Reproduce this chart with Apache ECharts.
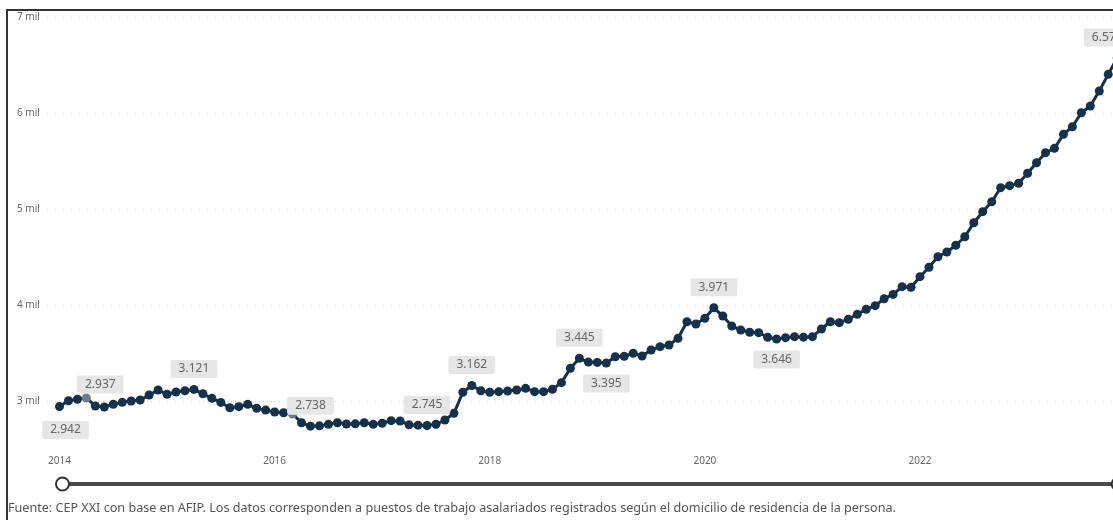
<!DOCTYPE html>
<html>
<head>
<meta charset="utf-8">
<script src="https://cdn.jsdelivr.net/npm/echarts@6/dist/echarts.min.js"></script>
<style>
  html, body { margin: 0; padding: 0; width: 1113px; height: 520px; overflow: hidden; background: #fff; }
  #frame { position: absolute; left: 6px; top: 9px; width: 1200px; height: 600px;
           border-left: 2px solid #333; border-top: 2px solid #333; }
  #chart { position: absolute; left: 0; top: 0; width: 1150px; height: 520px; }
</style>
</head>
<body>
<div id="frame"></div>
<div id="chart"></div>
<script>
// Puestos de trabajo asalariados registrados, serie mensual (ene-2014 a nov-2023)
const startYear = 2014;
const values = [
  2942, 3003, 3018, 3031, 2948, 2937, 2966, 2986, 3000, 3010, 3063, 3115,
  3070, 3094, 3107, 3121, 3075, 3028, 2985, 2930, 2941, 2965, 2924, 2905,
  2885, 2878, 2865, 2774, 2738, 2741, 2757, 2774, 2760, 2762, 2774, 2757,
  2768, 2795, 2792, 2752, 2748, 2745, 2757, 2802, 2872, 3091, 3162, 3107,
  3091, 3097, 3104, 3115, 3132, 3097, 3097, 3122, 3191, 3341, 3445, 3405,
  3402, 3395, 3461, 3465, 3497, 3469, 3531, 3566, 3583, 3653, 3826, 3802,
  3861, 3971, 3885, 3781, 3740, 3716, 3712, 3664, 3646, 3660, 3670, 3665,
  3670, 3750, 3826, 3816, 3851, 3903, 3955, 3993, 4065, 4110, 4191, 4185,
  4295, 4393, 4503, 4552, 4622, 4711, 4857, 4972, 5076, 5222, 5243, 5268,
  5372, 5482, 5586, 5632, 5778, 5857, 6003, 6073, 6229, 6403, 6574
];
// months shown with a value label, and which of them carry it underneath
const labelAbove = [5, 15, 28, 41, 46, 58, 73, 118];
const labelBelow = [0, 61, 80];
// markers drawn in a lighter tone
const mutedPoints = [3, 26];
// x-axis labels (years) and y-axis labels (thousands)
const yearTicks = [2014, 2016, 2018, 2020, 2022];
const yTicks = [3000, 4000, 5000, 6000, 7000];

const fmtThousands = v => {
  const s = String(Math.round(v));
  return s.length > 3 ? s.slice(0, s.length - 3) + '.' + s.slice(-3) : s;
};

const LINE = '#13314a';
const labelBase = {
  show: true,
  formatter: p => fmtThousands(p.value[1]),
  fontFamily: 'Noto Sans', fontSize: 12, lineHeight: 12, color: '#666',
  backgroundColor: '#e6e6e6', borderRadius: 2, padding: [3, 8], distance: 7
};
// nudges that keep some labels clear of the line or inside the plot
const labelOffsets = { 0: [6, 3], 5: [-4, -2], 118: [-10, 0] };

// x is the month number counted from January of the start year
const seriesData = values.map((v, i) => {
  const item = { value: [i, v] };
  const above = labelAbove.indexOf(i) >= 0, below = labelBelow.indexOf(i) >= 0;
  if (above || below) {
    item.label = Object.assign({}, labelBase, { position: above ? 'top' : 'bottom' });
    if (labelOffsets[i]) item.label.offset = labelOffsets[i];
  }
  if (mutedPoints.indexOf(i) >= 0) item.itemStyle = { color: '#6b7d8c' };
  return item;
});

const lastIdx = values.length - 1;
const edgePad = 1.84; // months of empty space at each end of the plot

const chart = echarts.init(document.getElementById('chart'), null, { renderer: 'canvas' });
chart.setOption({
  animation: false,
  backgroundColor: 'transparent',
  grid: { left: 43, top: 17, width: 1090.7, height: 432, containLabel: false },
  xAxis: {
    type: 'value',
    min: -edgePad, max: lastIdx + edgePad,
    axisLine: { show: false }, axisTick: { show: false }, splitLine: { show: false },
    axisLabel: {
      customValues: yearTicks.map(y => (y - startYear) * 12),
      formatter: v => String(startYear + Math.round(v / 12)),
      fontFamily: 'Noto Sans', fontSize: 10, color: '#666', margin: 7
    }
  },
  yAxis: {
    type: 'value', min: 2500, max: 7000, interval: 500,
    axisLine: { show: false }, axisTick: { show: false },
    axisLabel: {
      formatter: v => (yTicks.indexOf(v) >= 0 ? (v / 1000) + ' mil' : ''),
      fontFamily: 'Noto Sans', fontSize: 10, color: '#666', align: 'left', margin: 26
    },
    splitLine: { show: true, lineStyle: { color: ['rgba(0,0,0,0)', '#d4d4d4'], type: [1, 3], width: 1 } }
  },
  dataZoom: [{
    type: 'slider', xAxisIndex: 0, filterMode: 'none', start: 0, end: 100,
    left: 59.5, width: 1057.7, top: 482, height: 4,
    backgroundColor: '#4a4a4a', fillerColor: '#4a4a4a', borderColor: 'transparent',
    showDetail: false, showDataShadow: false, brushSelect: false, zoomLock: true,
    moveHandleSize: 0,
    handleIcon: 'circle', handleSize: 13,
    handleStyle: { color: '#fff', borderColor: '#333', borderWidth: 2 },
    dataBackground: { lineStyle: { opacity: 0 }, areaStyle: { opacity: 0 } },
    selectedDataBackground: { lineStyle: { opacity: 0 }, areaStyle: { opacity: 0 } }
  }],
  series: [{
    type: 'line',
    data: seriesData,
    symbol: 'circle', symbolSize: 9, showSymbol: true,
    lineStyle: { color: LINE, width: 3 },
    itemStyle: { color: LINE },
    emphasis: { disabled: true }
  }],
  graphic: [{
    type: 'text', left: 8, top: 502,
    style: {
      text: 'Fuente: CEP XXI con base en AFIP. Los datos corresponden a puestos de trabajo asalariados registrados según el domicilio de residencia de la persona.',
      font: '12.6px "Noto Sans"', fill: '#555'
    }
  }]
});
</script>
</body>
</html>
